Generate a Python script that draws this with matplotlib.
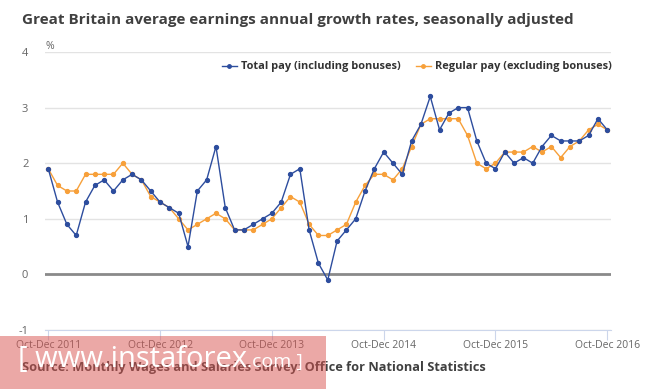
import numpy as np
import matplotlib.pyplot as plt
from matplotlib.patches import Rectangle
from matplotlib.lines import Line2D

plt.rcParams['font.family'] = ['Open Sans', 'DejaVu Sans']
plt.rcParams['axes.unicode_minus'] = False

# three-month periods, Oct-Dec 2011 .. Oct-Dec 2016 (monthly steps)
tick_labels = ['Oct-Dec 2011', 'Oct-Dec 2012', 'Oct-Dec 2013',
               'Oct-Dec 2014', 'Oct-Dec 2015', 'Oct-Dec 2016']

total_pay = [1.9, 1.3, 0.9, 0.7, 1.3, 1.6, 1.7, 1.5, 1.7, 1.8, 1.7, 1.5,
             1.3, 1.2, 1.1, 0.5, 1.5, 1.7, 2.3, 1.2, 0.8, 0.8, 0.9, 1.0,
             1.1, 1.3, 1.8, 1.9, 0.8, 0.2, -0.1, 0.6, 0.8, 1.0, 1.5, 1.9,
             2.2, 2.0, 1.8, 2.4, 2.7, 3.2, 2.6, 2.9, 3.0, 3.0, 2.4, 2.0,
             1.9, 2.2, 2.0, 2.1, 2.0, 2.3, 2.5, 2.4, 2.4, 2.4, 2.5, 2.8, 2.6]

regular_pay = [1.9, 1.6, 1.5, 1.5, 1.8, 1.8, 1.8, 1.8, 2.0, 1.8, 1.7, 1.4,
               1.3, 1.2, 1.0, 0.8, 0.9, 1.0, 1.1, 1.0, 0.8, 0.8, 0.8, 0.9,
               1.0, 1.2, 1.4, 1.3, 0.9, 0.7, 0.7, 0.8, 0.9, 1.3, 1.6, 1.8,
               1.8, 1.7, 1.9, 2.3, 2.7, 2.8, 2.8, 2.8, 2.8, 2.5, 2.0, 1.9,
               2.0, 2.2, 2.2, 2.2, 2.3, 2.2, 2.3, 2.1, 2.3, 2.4, 2.6, 2.7, 2.6]

blue = '#2d4d9e'
orange = '#f7a03a'

fig = plt.figure(figsize=(6.65, 3.89), dpi=100)
ax = fig.add_axes([45 / 665, 1 - 330 / 389, 566 / 665, 278 / 389])

x = np.arange(len(total_pay))
ax.plot(x, total_pay, color=blue, lw=1, marker='o', ms=2.8, zorder=4)
ax.plot(x, regular_pay, color=orange, lw=1, marker='o', ms=2.8, zorder=3)

ax.set_xlim(-0.35, 60.4)
ax.set_ylim(-1, 4)
ax.set_yticks(range(-1, 5))
ax.grid(axis='y', color='#e3e3e3', lw=1)
ax.axhline(0, color='#8a8a8a', lw=2, zorder=2)

ax.set_xticks(range(0, 61, 12))
ax.set_xticklabels(tick_labels)
ax.tick_params(axis='x', length=7, color='#ccd6eb', labelsize=7.5,
               labelcolor='#666666', pad=0)
ax.tick_params(axis='y', length=0, labelsize=8, labelcolor='#666666', pad=12)
for s in ['top', 'right', 'left']:
    ax.spines[s].set_visible(False)
ax.spines['bottom'].set_color('#ccd6eb')

ax.text(0, 1.0, '%', transform=ax.transAxes, fontsize=7.5, color='#666666',
        va='bottom')

handles = [Line2D([], [], color=blue, lw=1, marker='o', ms=2.5),
           Line2D([], [], color=orange, lw=1, marker='o', ms=2.5)]
leg = fig.legend(handles, ['Total pay (including bonuses)',
                           'Regular pay (excluding bonuses)'],
                 loc='center right', bbox_to_anchor=(622 / 665, 1 - 67 / 389),
                 ncol=2, frameon=False, handlelength=1.4, handletextpad=0.4,
                 columnspacing=1.3, prop={'weight': 'bold', 'size': 7.9})
for t in leg.get_texts():
    t.set_color('#333333')

fig.text(22 / 665, 1 - 20 / 389,
         'Great Britain average earnings annual growth rates, seasonally adjusted',
         fontsize=11, weight='bold', color='#404040', va='center')
fig.text(22 / 665, 1 - 367 / 389,
         'Source: Monthly Wages and Salaries Survey: Office for National Statistics',
         fontsize=9.2, weight='bold', color='#404040', va='center')

# watermark
fig.patches.append(Rectangle((0, 0), 326 / 665, 53 / 389, transform=fig.transFigure,
                             facecolor='#d9534f', alpha=0.5, lw=0, zorder=10))
t1 = fig.text(18 / 665, 1 - 367 / 389, '[ www.instaforex', fontsize=21,
              color='white', va='baseline', zorder=11)
r = fig.canvas.get_renderer()
bb = t1.get_window_extent(r)
fig.text(bb.x1 / fig.bbox.width, 1 - 367 / 389, '.com ]', fontsize=14,
         color='white', va='baseline', zorder=11)

fig.savefig('out.png', dpi=100)
